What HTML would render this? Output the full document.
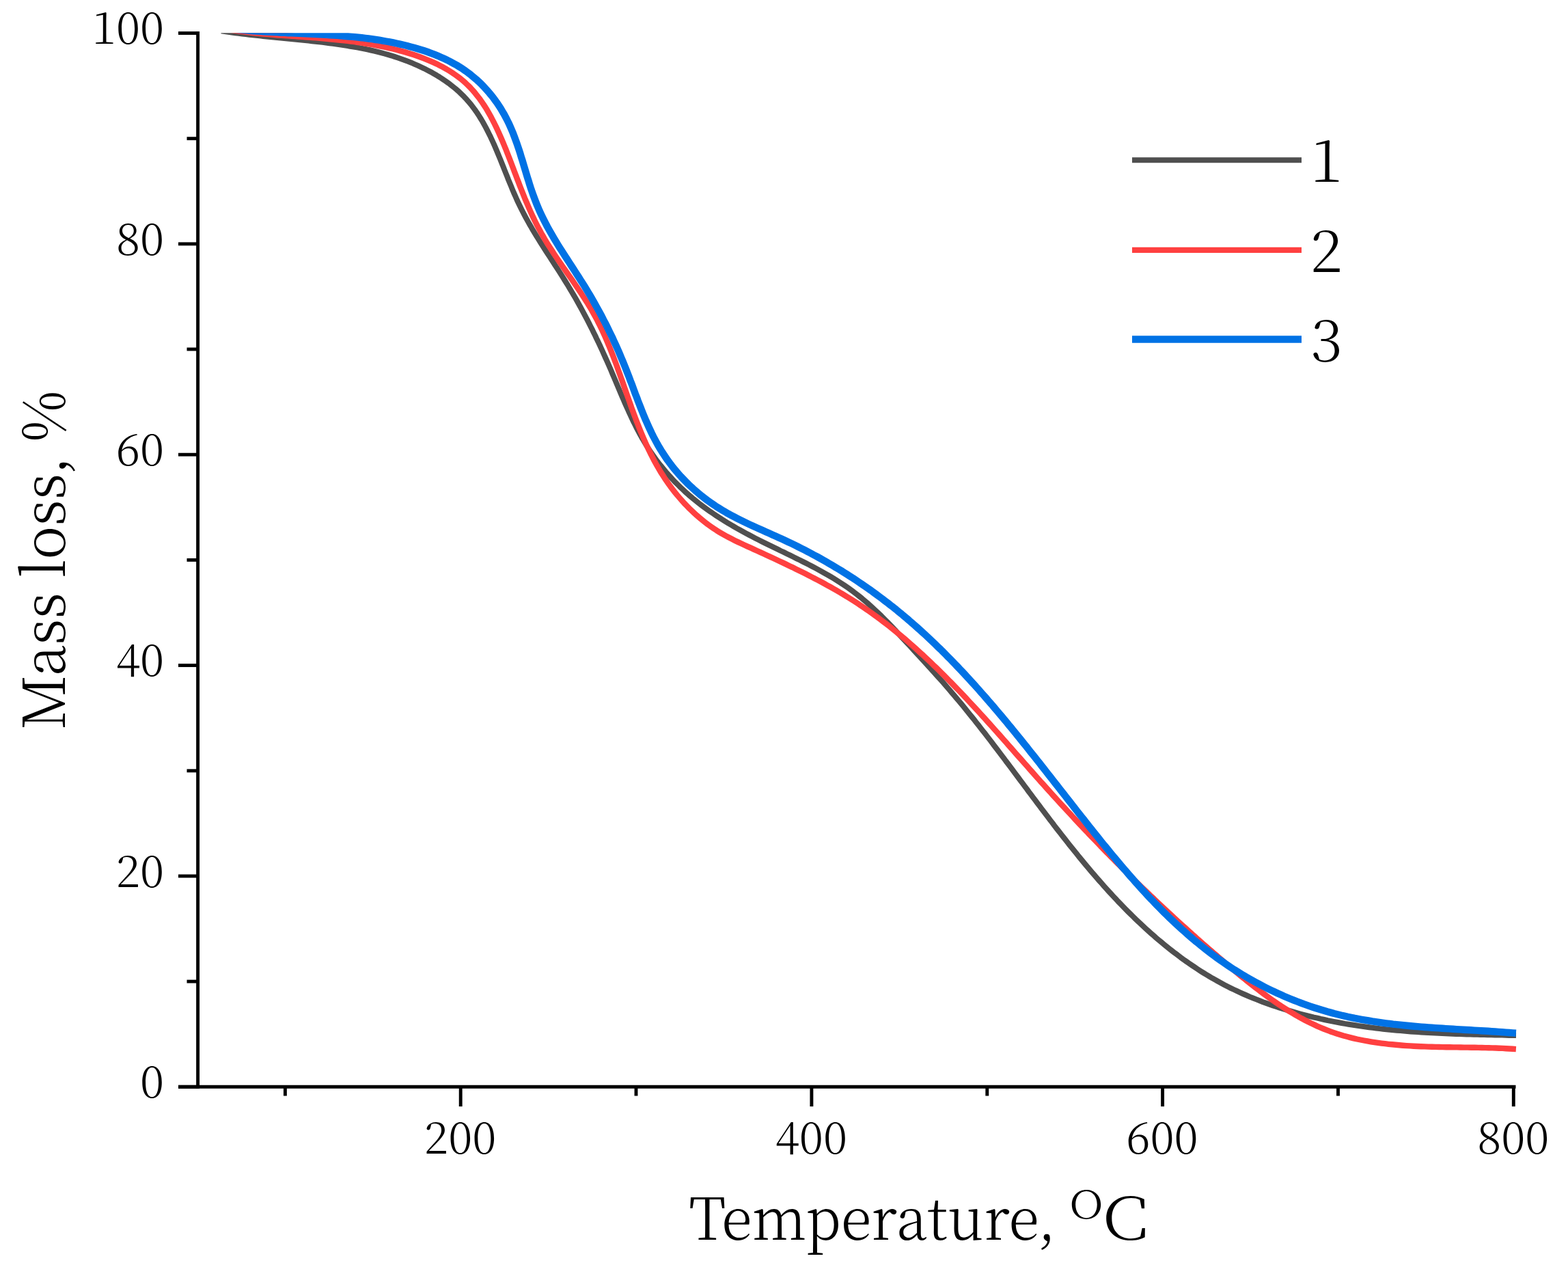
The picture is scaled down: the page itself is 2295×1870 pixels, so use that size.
<!DOCTYPE html>
<html><head><meta charset="utf-8"><title>Mass loss vs Temperature</title>
<style>html,body{margin:0;padding:0;background:#fff;}svg{display:block;}
text{font-family:"Noto Serif CJK SC", "Liberation Serif", serif;font-weight:300;fill:#000;}</style></head>
<body><svg width="2295" height="1870" viewBox="0 0 2295 1870">
<rect width="2295" height="1870" fill="#fff"/>
<defs><clipPath id="pc"><rect x="290" y="48.3" width="1930" height="1540"/></clipPath></defs>
<g clip-path="url(#pc)">
<path d="M324.0,45.3 L329.1,46.1 L334.2,46.8 L339.3,47.5 L344.4,48.2 L349.5,48.9 L354.6,49.5 L359.7,50.1 L364.8,50.7 L369.9,51.3 L375.0,51.8 L380.1,52.4 L385.2,52.9 L390.3,53.4 L395.4,54.0 L400.5,54.5 L405.6,55.0 L410.8,55.5 L415.9,56.0 L421.0,56.5 L426.1,57.0 L431.2,57.5 L436.3,58.0 L441.4,58.5 L446.5,59.1 L451.6,59.6 L456.7,60.2 L461.8,60.7 L466.9,61.3 L472.0,61.9 L477.1,62.5 L482.2,63.2 L487.2,63.9 L492.3,64.6 L497.4,65.3 L502.4,66.0 L507.5,66.8 L512.5,67.7 L517.6,68.5 L522.6,69.4 L527.6,70.4 L532.7,71.4 L537.7,72.4 L542.7,73.5 L547.7,74.7 L552.7,75.9 L557.6,77.1 L562.6,78.5 L567.6,79.9 L572.5,81.3 L577.4,82.9 L582.3,84.5 L587.2,86.2 L592.1,88.0 L597.0,89.8 L601.9,91.7 L606.7,93.8 L611.5,95.9 L616.2,98.1 L620.9,100.3 L625.6,102.7 L630.2,105.1 L634.8,107.7 L639.3,110.3 L643.7,113.0 L648.0,115.8 L652.3,118.7 L656.5,121.7 L660.5,124.8 L664.5,128.0 L668.4,131.2 L672.2,134.6 L675.8,138.1 L679.4,141.7 L682.8,145.3 L686.1,149.1 L689.3,152.9 L692.3,156.9 L695.3,160.9 L698.2,165.0 L700.9,169.2 L703.6,173.5 L706.2,177.8 L708.7,182.2 L711.1,186.6 L713.4,191.1 L715.7,195.7 L718.0,200.3 L720.1,204.9 L722.3,209.6 L724.4,214.4 L726.4,219.1 L728.4,223.9 L730.4,228.7 L732.4,233.5 L734.3,238.4 L736.3,243.2 L738.2,248.1 L740.1,252.9 L742.1,257.8 L744.0,262.7 L746.0,267.5 L748.0,272.3 L750.0,277.2 L752.0,282.0 L754.1,286.7 L756.2,291.5 L758.4,296.2 L760.6,300.8 L762.9,305.5 L765.2,310.0 L767.6,314.6 L770.0,319.1 L772.5,323.6 L775.0,328.1 L777.6,332.5 L780.1,336.9 L782.8,341.3 L785.4,345.6 L788.1,350.0 L790.8,354.3 L793.5,358.6 L796.2,362.9 L799.0,367.2 L801.8,371.5 L804.5,375.7 L807.3,380.0 L810.1,384.3 L812.8,388.6 L815.6,392.8 L818.4,397.1 L821.1,401.4 L823.8,405.7 L826.5,410.0 L829.2,414.4 L831.9,418.7 L834.5,423.1 L837.1,427.5 L839.7,431.9 L842.3,436.3 L844.8,440.8 L847.3,445.3 L849.8,449.7 L852.3,454.3 L854.7,458.8 L857.1,463.3 L859.5,467.9 L861.8,472.4 L864.1,477.0 L866.5,481.6 L868.7,486.2 L871.0,490.8 L873.2,495.5 L875.5,500.1 L877.7,504.8 L879.8,509.4 L882.0,514.1 L884.1,518.8 L886.2,523.5 L888.3,528.2 L890.4,532.9 L892.5,537.6 L894.5,542.3 L896.5,547.1 L898.5,551.8 L900.5,556.5 L902.5,561.3 L904.5,566.0 L906.5,570.7 L908.5,575.5 L910.5,580.2 L912.6,584.9 L914.6,589.6 L916.7,594.3 L918.8,598.9 L920.9,603.6 L923.0,608.2 L925.2,612.9 L927.4,617.5 L929.7,622.0 L932.0,626.6 L934.4,631.1 L936.8,635.6 L939.3,640.1 L941.9,644.5 L944.5,648.9 L947.2,653.3 L949.9,657.6 L952.7,661.9 L955.7,666.1 L958.7,670.3 L961.7,674.5 L964.9,678.6 L968.1,682.6 L971.4,686.6 L974.7,690.6 L978.1,694.5 L981.6,698.3 L985.1,702.1 L988.7,705.9 L992.4,709.5 L996.0,713.1 L999.8,716.7 L1003.6,720.2 L1007.4,723.6 L1011.3,726.9 L1015.2,730.2 L1019.2,733.4 L1023.2,736.6 L1027.3,739.7 L1031.4,742.7 L1035.5,745.7 L1039.7,748.7 L1043.9,751.5 L1048.1,754.4 L1052.4,757.2 L1056.7,759.9 L1061.0,762.6 L1065.4,765.3 L1069.8,767.9 L1074.2,770.5 L1078.7,773.1 L1083.1,775.6 L1087.6,778.1 L1092.1,780.5 L1096.7,782.9 L1101.2,785.3 L1105.8,787.7 L1110.4,790.0 L1115.0,792.3 L1119.6,794.6 L1124.2,796.9 L1128.9,799.2 L1133.5,801.4 L1138.2,803.7 L1142.8,806.0 L1147.5,808.2 L1152.1,810.5 L1156.7,812.7 L1161.4,815.0 L1166.0,817.3 L1170.6,819.5 L1175.2,821.9 L1179.8,824.2 L1184.4,826.5 L1188.9,828.9 L1193.5,831.3 L1198.0,833.7 L1202.5,836.2 L1206.9,838.7 L1211.4,841.2 L1215.8,843.8 L1220.2,846.4 L1224.5,849.1 L1228.8,851.8 L1233.1,854.6 L1237.3,857.4 L1241.5,860.3 L1245.6,863.3 L1249.7,866.3 L1253.7,869.4 L1257.7,872.5 L1261.7,875.7 L1265.6,879.0 L1269.5,882.3 L1273.3,885.7 L1277.1,889.2 L1280.8,892.6 L1284.6,896.2 L1288.3,899.7 L1291.9,903.3 L1295.6,907.0 L1299.2,910.6 L1302.8,914.3 L1306.4,918.1 L1310.0,921.8 L1313.5,925.6 L1317.1,929.4 L1320.6,933.2 L1324.1,937.0 L1327.6,940.8 L1331.2,944.6 L1334.7,948.4 L1338.2,952.3 L1341.7,956.1 L1345.2,959.9 L1348.8,963.7 L1352.3,967.5 L1355.8,971.4 L1359.3,975.2 L1362.8,979.0 L1366.2,982.9 L1369.7,986.7 L1373.1,990.5 L1376.6,994.4 L1380.0,998.2 L1383.4,1002.1 L1386.7,1006.0 L1390.1,1009.9 L1393.4,1013.8 L1396.7,1017.7 L1400.0,1021.6 L1403.3,1025.5 L1406.6,1029.4 L1409.8,1033.3 L1413.0,1037.3 L1416.2,1041.2 L1419.4,1045.2 L1422.6,1049.1 L1425.8,1053.1 L1428.9,1057.1 L1432.1,1061.1 L1435.2,1065.1 L1438.3,1069.1 L1441.5,1073.1 L1444.6,1077.1 L1447.7,1081.1 L1450.8,1085.1 L1453.8,1089.2 L1456.9,1093.2 L1460.0,1097.2 L1463.1,1101.3 L1466.1,1105.3 L1469.2,1109.4 L1472.2,1113.5 L1475.3,1117.5 L1478.4,1121.6 L1481.4,1125.7 L1484.5,1129.8 L1487.5,1133.9 L1490.6,1138.0 L1493.6,1142.1 L1496.7,1146.2 L1499.8,1150.3 L1502.9,1154.4 L1505.9,1158.6 L1509.0,1162.7 L1512.1,1166.8 L1515.2,1170.9 L1518.3,1175.1 L1521.4,1179.2 L1524.5,1183.3 L1527.6,1187.4 L1530.8,1191.6 L1533.9,1195.7 L1537.0,1199.8 L1540.2,1203.9 L1543.3,1208.1 L1546.5,1212.2 L1549.7,1216.3 L1552.9,1220.4 L1556.1,1224.5 L1559.3,1228.5 L1562.5,1232.6 L1565.7,1236.7 L1569.0,1240.8 L1572.2,1244.8 L1575.5,1248.8 L1578.7,1252.9 L1582.0,1256.9 L1585.3,1260.9 L1588.6,1264.9 L1592.0,1268.9 L1595.3,1272.8 L1598.7,1276.8 L1602.0,1280.7 L1605.4,1284.6 L1608.8,1288.5 L1612.3,1292.4 L1615.7,1296.3 L1619.1,1300.1 L1622.6,1304.0 L1626.1,1307.8 L1629.6,1311.6 L1633.1,1315.3 L1636.6,1319.1 L1640.2,1322.8 L1643.8,1326.5 L1647.4,1330.2 L1651.0,1333.8 L1654.6,1337.4 L1658.3,1341.0 L1661.9,1344.6 L1665.6,1348.1 L1669.4,1351.7 L1673.1,1355.2 L1676.8,1358.6 L1680.6,1362.0 L1684.4,1365.4 L1688.3,1368.8 L1692.1,1372.2 L1696.0,1375.5 L1699.9,1378.7 L1703.8,1382.0 L1707.7,1385.2 L1711.7,1388.4 L1715.7,1391.5 L1719.7,1394.6 L1723.8,1397.6 L1727.8,1400.7 L1731.9,1403.7 L1736.1,1406.6 L1740.2,1409.5 L1744.4,1412.4 L1748.6,1415.2 L1752.8,1418.0 L1757.1,1420.8 L1761.4,1423.5 L1765.7,1426.1 L1770.1,1428.7 L1774.4,1431.3 L1778.9,1433.8 L1783.3,1436.3 L1787.8,1438.8 L1792.3,1441.2 L1796.8,1443.5 L1801.4,1445.8 L1806.0,1448.0 L1810.6,1450.2 L1815.3,1452.4 L1820.0,1454.5 L1824.7,1456.5 L1829.4,1458.6 L1834.2,1460.5 L1839.0,1462.4 L1843.8,1464.3 L1848.6,1466.2 L1853.5,1467.9 L1858.4,1469.7 L1863.2,1471.4 L1868.2,1473.0 L1873.1,1474.7 L1878.0,1476.2 L1883.0,1477.8 L1888.0,1479.2 L1893.0,1480.7 L1898.0,1482.1 L1903.0,1483.5 L1908.0,1484.8 L1913.0,1486.1 L1918.1,1487.4 L1923.1,1488.6 L1928.2,1489.7 L1933.2,1490.9 L1938.3,1492.0 L1943.3,1493.1 L1948.4,1494.1 L1953.5,1495.1 L1958.5,1496.0 L1963.6,1497.0 L1968.6,1497.9 L1973.7,1498.7 L1978.8,1499.5 L1983.8,1500.3 L1988.9,1501.1 L1994.0,1501.8 L1999.0,1502.5 L2004.1,1503.2 L2009.2,1503.9 L2014.2,1504.5 L2019.3,1505.1 L2024.4,1505.7 L2029.4,1506.2 L2034.5,1506.7 L2039.6,1507.2 L2044.7,1507.7 L2049.8,1508.1 L2054.8,1508.6 L2059.9,1509.0 L2065.0,1509.4 L2070.1,1509.7 L2075.2,1510.1 L2080.3,1510.4 L2085.4,1510.7 L2090.5,1511.0 L2095.6,1511.3 L2100.7,1511.6 L2105.8,1511.8 L2110.9,1512.1 L2116.0,1512.3 L2121.1,1512.5 L2126.2,1512.7 L2131.4,1512.9 L2136.5,1513.1 L2141.6,1513.2 L2146.7,1513.4 L2151.9,1513.5 L2157.0,1513.7 L2162.2,1513.8 L2167.3,1513.9 L2172.5,1514.1 L2177.6,1514.2 L2182.8,1514.3 L2187.9,1514.4 L2193.1,1514.5 L2198.3,1514.6 L2203.5,1514.7 L2208.7,1514.9 L2213.8,1515.0 L2219.0,1515.1" fill="none" stroke="#4f4f4f" stroke-width="8" stroke-linejoin="round"/>
<path d="M324.0,41.8 L329.1,42.6 L334.3,43.4 L339.4,44.2 L344.6,44.9 L349.7,45.6 L354.9,46.2 L360.0,46.8 L365.2,47.4 L370.3,48.0 L375.5,48.5 L380.6,49.0 L385.7,49.5 L390.9,49.9 L396.0,50.4 L401.2,50.8 L406.3,51.2 L411.5,51.6 L416.6,52.0 L421.7,52.4 L426.9,52.7 L432.0,53.1 L437.1,53.5 L442.3,53.9 L447.4,54.3 L452.5,54.6 L457.7,55.0 L462.8,55.4 L467.9,55.9 L473.0,56.3 L478.2,56.7 L483.3,57.2 L488.4,57.7 L493.5,58.2 L498.6,58.8 L503.7,59.3 L508.8,59.9 L513.9,60.6 L519.0,61.2 L524.1,62.0 L529.2,62.7 L534.3,63.5 L539.4,64.3 L544.5,65.2 L549.6,66.1 L554.6,67.1 L559.7,68.1 L564.8,69.2 L569.8,70.3 L574.9,71.5 L580.0,72.8 L585.0,74.1 L590.1,75.5 L595.1,76.9 L600.1,78.5 L605.2,80.1 L610.2,81.8 L615.1,83.5 L620.0,85.4 L624.9,87.3 L629.8,89.3 L634.5,91.4 L639.3,93.6 L643.9,95.9 L648.5,98.3 L653.0,100.9 L657.4,103.5 L661.7,106.2 L665.9,109.1 L670.1,112.1 L674.1,115.1 L678.0,118.4 L681.7,121.7 L685.4,125.2 L688.9,128.8 L692.3,132.5 L695.5,136.3 L698.7,140.3 L701.8,144.3 L704.7,148.4 L707.6,152.6 L710.4,156.9 L713.1,161.3 L715.7,165.8 L718.2,170.3 L720.6,174.9 L723.0,179.5 L725.3,184.2 L727.6,188.9 L729.8,193.7 L731.9,198.5 L734.0,203.3 L736.1,208.1 L738.1,213.0 L740.1,217.8 L742.0,222.7 L743.9,227.6 L745.8,232.4 L747.7,237.3 L749.6,242.2 L751.4,247.0 L753.2,251.9 L755.1,256.7 L756.9,261.6 L758.8,266.4 L760.6,271.2 L762.5,276.0 L764.4,280.8 L766.3,285.5 L768.2,290.3 L770.2,295.0 L772.2,299.7 L774.2,304.4 L776.3,309.1 L778.4,313.7 L780.6,318.4 L782.8,323.0 L785.0,327.5 L787.4,332.1 L789.8,336.6 L792.2,341.1 L794.8,345.5 L797.4,350.0 L800.0,354.4 L802.7,358.7 L805.5,363.1 L808.3,367.4 L811.1,371.7 L814.0,376.0 L816.9,380.3 L819.9,384.6 L822.8,388.9 L825.8,393.1 L828.7,397.4 L831.7,401.7 L834.7,405.9 L837.7,410.2 L840.6,414.5 L843.6,418.8 L846.5,423.1 L849.4,427.4 L852.2,431.7 L855.0,436.1 L857.8,440.4 L860.6,444.8 L863.2,449.2 L865.9,453.7 L868.4,458.2 L870.9,462.7 L873.4,467.2 L875.7,471.8 L878.0,476.4 L880.3,481.0 L882.5,485.7 L884.6,490.4 L886.7,495.1 L888.7,499.8 L890.7,504.5 L892.7,509.3 L894.6,514.1 L896.5,518.9 L898.4,523.7 L900.2,528.6 L902.0,533.4 L903.8,538.3 L905.5,543.1 L907.3,548.0 L909.0,552.9 L910.8,557.8 L912.5,562.7 L914.2,567.6 L915.9,572.5 L917.6,577.3 L919.3,582.2 L921.1,587.1 L922.8,592.0 L924.5,596.9 L926.3,601.7 L928.1,606.6 L929.9,611.4 L931.7,616.2 L933.6,621.1 L935.5,625.9 L937.4,630.6 L939.4,635.4 L941.4,640.1 L943.5,644.9 L945.5,649.6 L947.7,654.2 L949.9,658.9 L952.2,663.5 L954.5,668.1 L956.8,672.7 L959.3,677.2 L961.8,681.7 L964.4,686.1 L967.0,690.6 L969.8,694.9 L972.6,699.3 L975.5,703.6 L978.4,707.8 L981.5,712.1 L984.6,716.2 L987.8,720.3 L991.1,724.4 L994.5,728.4 L997.9,732.3 L1001.4,736.2 L1005.0,739.9 L1008.7,743.7 L1012.4,747.3 L1016.2,750.9 L1020.0,754.3 L1024.0,757.7 L1028.0,761.0 L1032.0,764.2 L1036.1,767.4 L1040.3,770.4 L1044.5,773.3 L1048.8,776.1 L1053.2,778.8 L1057.6,781.4 L1062.0,783.9 L1066.5,786.3 L1071.0,788.6 L1075.6,790.9 L1080.2,793.1 L1084.8,795.3 L1089.5,797.5 L1094.1,799.6 L1098.8,801.7 L1103.5,803.9 L1108.2,806.0 L1112.9,808.1 L1117.6,810.3 L1122.3,812.5 L1127.0,814.6 L1131.7,816.8 L1136.4,819.0 L1141.1,821.2 L1145.8,823.4 L1150.5,825.6 L1155.2,827.9 L1159.9,830.1 L1164.5,832.4 L1169.2,834.7 L1173.9,837.0 L1178.5,839.3 L1183.2,841.7 L1187.8,844.1 L1192.4,846.5 L1197.0,848.9 L1201.6,851.3 L1206.2,853.8 L1210.7,856.3 L1215.3,858.8 L1219.8,861.3 L1224.3,863.9 L1228.7,866.5 L1233.2,869.2 L1237.6,871.8 L1242.0,874.5 L1246.4,877.3 L1250.8,880.0 L1255.1,882.8 L1259.4,885.7 L1263.6,888.5 L1267.9,891.5 L1272.1,894.4 L1276.3,897.4 L1280.4,900.4 L1284.6,903.4 L1288.7,906.5 L1292.8,909.6 L1296.9,912.7 L1300.9,915.8 L1304.9,919.0 L1308.9,922.2 L1312.9,925.5 L1316.9,928.7 L1320.8,932.0 L1324.7,935.3 L1328.6,938.7 L1332.5,942.1 L1336.3,945.4 L1340.2,948.9 L1344.0,952.3 L1347.8,955.8 L1351.6,959.2 L1355.3,962.7 L1359.1,966.3 L1362.8,969.8 L1366.5,973.4 L1370.2,976.9 L1373.9,980.5 L1377.6,984.2 L1381.2,987.8 L1384.9,991.5 L1388.5,995.1 L1392.1,998.8 L1395.7,1002.5 L1399.3,1006.2 L1402.9,1009.9 L1406.5,1013.7 L1410.1,1017.4 L1413.6,1021.2 L1417.1,1025.0 L1420.7,1028.8 L1424.2,1032.6 L1427.7,1036.4 L1431.2,1040.2 L1434.7,1044.0 L1438.2,1047.9 L1441.7,1051.7 L1445.2,1055.6 L1448.6,1059.4 L1452.1,1063.3 L1455.6,1067.2 L1459.0,1071.0 L1462.5,1074.9 L1465.9,1078.8 L1469.4,1082.7 L1472.8,1086.6 L1476.2,1090.5 L1479.7,1094.4 L1483.1,1098.3 L1486.5,1102.2 L1490.0,1106.1 L1493.4,1109.9 L1496.8,1113.8 L1500.3,1117.7 L1503.7,1121.6 L1507.1,1125.5 L1510.6,1129.4 L1514.0,1133.3 L1517.5,1137.2 L1520.9,1141.0 L1524.3,1144.9 L1527.8,1148.7 L1531.3,1152.6 L1534.7,1156.4 L1538.2,1160.3 L1541.6,1164.1 L1545.1,1167.9 L1548.6,1171.8 L1552.1,1175.6 L1555.6,1179.4 L1559.1,1183.2 L1562.6,1187.0 L1566.1,1190.7 L1569.6,1194.5 L1573.1,1198.3 L1576.6,1202.0 L1580.1,1205.8 L1583.7,1209.6 L1587.2,1213.3 L1590.8,1217.0 L1594.3,1220.8 L1597.9,1224.5 L1601.4,1228.2 L1605.0,1231.9 L1608.6,1235.6 L1612.1,1239.3 L1615.7,1243.0 L1619.3,1246.7 L1622.9,1250.3 L1626.5,1254.0 L1630.1,1257.6 L1633.7,1261.3 L1637.4,1264.9 L1641.0,1268.6 L1644.6,1272.2 L1648.3,1275.8 L1651.9,1279.4 L1655.6,1283.1 L1659.3,1286.7 L1662.9,1290.2 L1666.6,1293.8 L1670.3,1297.4 L1674.0,1301.0 L1677.7,1304.6 L1681.4,1308.1 L1685.1,1311.7 L1688.9,1315.2 L1692.6,1318.8 L1696.3,1322.3 L1700.1,1325.8 L1703.8,1329.3 L1707.6,1332.9 L1711.4,1336.4 L1715.2,1339.9 L1718.9,1343.3 L1722.7,1346.8 L1726.5,1350.3 L1730.4,1353.8 L1734.2,1357.2 L1738.0,1360.7 L1741.9,1364.1 L1745.7,1367.6 L1749.6,1371.0 L1753.4,1374.5 L1757.3,1377.9 L1761.2,1381.3 L1765.1,1384.7 L1769.0,1388.1 L1772.9,1391.5 L1776.8,1394.9 L1780.8,1398.3 L1784.7,1401.6 L1788.7,1405.0 L1792.6,1408.4 L1796.6,1411.7 L1800.6,1415.1 L1804.6,1418.4 L1808.6,1421.7 L1812.6,1425.1 L1816.6,1428.4 L1820.7,1431.6 L1824.7,1434.9 L1828.8,1438.2 L1832.9,1441.4 L1837.0,1444.6 L1841.1,1447.7 L1845.2,1450.9 L1849.4,1454.0 L1853.6,1457.1 L1857.8,1460.1 L1862.0,1463.1 L1866.2,1466.0 L1870.5,1468.9 L1874.7,1471.8 L1879.0,1474.6 L1883.4,1477.4 L1887.7,1480.1 L1892.1,1482.7 L1896.5,1485.3 L1901.0,1487.8 L1905.4,1490.3 L1909.9,1492.7 L1914.4,1495.0 L1919.0,1497.3 L1923.6,1499.4 L1928.2,1501.6 L1932.9,1503.6 L1937.5,1505.5 L1942.3,1507.4 L1947.0,1509.2 L1951.8,1510.9 L1956.6,1512.5 L1961.5,1514.0 L1966.4,1515.5 L1971.3,1516.8 L1976.3,1518.1 L1981.3,1519.3 L1986.3,1520.5 L1991.3,1521.5 L1996.4,1522.5 L2001.5,1523.4 L2006.6,1524.3 L2011.7,1525.1 L2016.9,1525.9 L2022.1,1526.6 L2027.3,1527.2 L2032.5,1527.8 L2037.7,1528.3 L2042.9,1528.8 L2048.2,1529.3 L2053.4,1529.7 L2058.7,1530.1 L2064.0,1530.4 L2069.2,1530.7 L2074.5,1531.0 L2079.8,1531.2 L2085.1,1531.4 L2090.4,1531.6 L2095.7,1531.7 L2101.0,1531.9 L2106.2,1532.0 L2111.5,1532.1 L2116.8,1532.2 L2122.1,1532.3 L2127.3,1532.4 L2132.6,1532.4 L2137.8,1532.5 L2143.0,1532.6 L2148.2,1532.6 L2153.4,1532.7 L2158.6,1532.8 L2163.8,1532.9 L2168.9,1533.0 L2174.0,1533.1 L2179.1,1533.2 L2184.2,1533.4 L2189.2,1533.5 L2194.2,1533.7 L2199.2,1533.9 L2204.2,1534.2 L2209.1,1534.5 L2214.0,1534.8 L2218.9,1535.1" fill="none" stroke="#ff4040" stroke-width="8.4" stroke-linejoin="round"/>
<path d="M324.1,40.3 L329.2,41.0 L334.3,41.6 L339.4,42.2 L344.6,42.8 L349.7,43.3 L354.8,43.8 L360.0,44.3 L365.1,44.8 L370.2,45.2 L375.4,45.5 L380.5,45.9 L385.6,46.2 L390.8,46.6 L395.9,46.9 L401.1,47.1 L406.2,47.4 L411.3,47.7 L416.5,47.9 L421.6,48.2 L426.8,48.4 L431.9,48.6 L437.0,48.9 L442.2,49.1 L447.3,49.3 L452.4,49.6 L457.6,49.8 L462.7,50.1 L467.9,50.3 L473.0,50.6 L478.1,50.9 L483.3,51.2 L488.4,51.6 L493.5,51.9 L498.7,52.3 L503.8,52.7 L508.9,53.2 L514.0,53.6 L519.2,54.1 L524.3,54.7 L529.4,55.2 L534.5,55.9 L539.6,56.5 L544.7,57.2 L549.8,58.0 L555.0,58.7 L560.1,59.6 L565.2,60.5 L570.3,61.4 L575.4,62.4 L580.4,63.5 L585.5,64.6 L590.6,65.8 L595.7,67.0 L600.8,68.4 L605.8,69.7 L610.9,71.2 L615.9,72.7 L620.9,74.3 L625.9,76.0 L630.8,77.8 L635.7,79.7 L640.5,81.6 L645.3,83.7 L650.0,85.8 L654.7,88.0 L659.3,90.4 L663.8,92.8 L668.3,95.3 L672.7,98.0 L677.0,100.7 L681.2,103.6 L685.3,106.6 L689.3,109.7 L693.2,112.9 L697.1,116.2 L700.8,119.6 L704.4,123.1 L708.0,126.7 L711.4,130.4 L714.8,134.2 L718.0,138.1 L721.2,142.0 L724.2,146.1 L727.2,150.2 L730.0,154.4 L732.8,158.7 L735.4,163.1 L738.0,167.5 L740.4,172.0 L742.7,176.5 L745.0,181.1 L747.1,185.8 L749.1,190.5 L751.1,195.3 L752.9,200.1 L754.7,205.0 L756.5,209.8 L758.2,214.8 L759.8,219.7 L761.4,224.7 L762.9,229.7 L764.5,234.7 L766.0,239.7 L767.5,244.7 L769.0,249.7 L770.5,254.7 L772.0,259.7 L773.6,264.7 L775.1,269.7 L776.7,274.7 L778.4,279.6 L780.1,284.5 L781.9,289.4 L783.7,294.2 L785.6,299.0 L787.6,303.8 L789.6,308.5 L791.8,313.2 L794.0,317.8 L796.3,322.4 L798.6,326.9 L801.0,331.5 L803.5,336.0 L806.0,340.4 L808.6,344.9 L811.2,349.3 L813.8,353.7 L816.5,358.1 L819.2,362.4 L822.0,366.8 L824.7,371.1 L827.5,375.4 L830.3,379.7 L833.1,384.0 L835.9,388.4 L838.7,392.7 L841.5,397.0 L844.3,401.3 L847.1,405.6 L849.8,409.9 L852.6,414.3 L855.3,418.6 L858.0,423.0 L860.6,427.4 L863.3,431.8 L865.9,436.2 L868.4,440.6 L870.9,445.1 L873.4,449.5 L875.9,454.0 L878.4,458.5 L880.8,463.0 L883.1,467.6 L885.5,472.1 L887.8,476.7 L890.1,481.3 L892.3,485.9 L894.6,490.5 L896.8,495.1 L898.9,499.8 L901.1,504.5 L903.2,509.2 L905.3,513.9 L907.3,518.6 L909.3,523.4 L911.3,528.1 L913.3,532.9 L915.2,537.7 L917.1,542.5 L919.0,547.4 L920.9,552.2 L922.7,557.1 L924.6,561.9 L926.4,566.8 L928.2,571.7 L930.0,576.6 L931.9,581.4 L933.7,586.3 L935.6,591.1 L937.5,596.0 L939.4,600.8 L941.3,605.6 L943.3,610.4 L945.3,615.2 L947.4,619.9 L949.5,624.6 L951.7,629.3 L953.9,634.0 L956.2,638.6 L958.6,643.1 L961.0,647.6 L963.5,652.1 L966.1,656.5 L968.8,660.9 L971.6,665.2 L974.5,669.5 L977.4,673.7 L980.5,677.8 L983.6,681.9 L986.8,685.9 L990.1,689.9 L993.5,693.8 L996.9,697.6 L1000.5,701.4 L1004.1,705.1 L1007.7,708.7 L1011.5,712.2 L1015.3,715.7 L1019.1,719.1 L1023.1,722.4 L1027.0,725.7 L1031.1,728.9 L1035.2,732.0 L1039.4,735.0 L1043.6,737.9 L1047.9,740.8 L1052.2,743.5 L1056.5,746.2 L1061.0,748.8 L1065.4,751.4 L1069.9,753.8 L1074.4,756.2 L1079.0,758.6 L1083.6,760.9 L1088.2,763.2 L1092.8,765.4 L1097.5,767.6 L1102.2,769.7 L1106.9,771.9 L1111.6,774.0 L1116.3,776.1 L1121.0,778.2 L1125.8,780.3 L1130.5,782.4 L1135.2,784.5 L1140.0,786.7 L1144.7,788.8 L1149.4,791.0 L1154.1,793.2 L1158.8,795.4 L1163.4,797.7 L1168.1,800.0 L1172.7,802.3 L1177.4,804.7 L1182.0,807.1 L1186.6,809.5 L1191.1,812.0 L1195.7,814.4 L1200.2,816.9 L1204.8,819.5 L1209.3,822.1 L1213.8,824.7 L1218.3,827.3 L1222.7,829.9 L1227.2,832.6 L1231.6,835.3 L1236.0,838.1 L1240.4,840.8 L1244.7,843.6 L1249.1,846.4 L1253.4,849.3 L1257.7,852.2 L1262.0,855.1 L1266.2,858.0 L1270.5,861.0 L1274.7,863.9 L1278.9,867.0 L1283.0,870.0 L1287.2,873.1 L1291.3,876.1 L1295.4,879.3 L1299.5,882.4 L1303.5,885.6 L1307.6,888.7 L1311.6,891.9 L1315.5,895.2 L1319.5,898.4 L1323.4,901.7 L1327.4,905.0 L1331.2,908.4 L1335.1,911.7 L1339.0,915.1 L1342.8,918.5 L1346.6,921.9 L1350.4,925.3 L1354.2,928.8 L1357.9,932.3 L1361.6,935.8 L1365.3,939.3 L1369.0,942.8 L1372.7,946.4 L1376.4,949.9 L1380.0,953.5 L1383.6,957.1 L1387.2,960.8 L1390.8,964.4 L1394.4,968.1 L1397.9,971.8 L1401.5,975.5 L1405.0,979.2 L1408.5,982.9 L1412.0,986.6 L1415.5,990.4 L1419.0,994.2 L1422.4,998.0 L1425.9,1001.8 L1429.3,1005.6 L1432.7,1009.4 L1436.1,1013.3 L1439.5,1017.1 L1442.9,1021.0 L1446.2,1024.9 L1449.6,1028.7 L1453.0,1032.6 L1456.3,1036.6 L1459.6,1040.5 L1462.9,1044.4 L1466.3,1048.4 L1469.6,1052.3 L1472.9,1056.3 L1476.1,1060.3 L1479.4,1064.2 L1482.7,1068.2 L1486.0,1072.2 L1489.2,1076.2 L1492.5,1080.2 L1495.7,1084.3 L1498.9,1088.3 L1502.2,1092.3 L1505.4,1096.4 L1508.6,1100.4 L1511.9,1104.5 L1515.1,1108.5 L1518.3,1112.6 L1521.5,1116.6 L1524.7,1120.7 L1527.9,1124.8 L1531.1,1128.9 L1534.3,1132.9 L1537.5,1137.0 L1540.7,1141.1 L1543.9,1145.2 L1547.1,1149.3 L1550.3,1153.4 L1553.5,1157.4 L1556.7,1161.5 L1559.9,1165.6 L1563.1,1169.7 L1566.3,1173.8 L1569.5,1177.9 L1572.7,1182.0 L1575.9,1186.1 L1579.1,1190.2 L1582.3,1194.3 L1585.6,1198.3 L1588.8,1202.4 L1592.0,1206.5 L1595.2,1210.6 L1598.5,1214.6 L1601.7,1218.7 L1605.0,1222.8 L1608.2,1226.8 L1611.5,1230.9 L1614.7,1234.9 L1618.0,1238.9 L1621.3,1242.9 L1624.6,1247.0 L1627.9,1251.0 L1631.2,1254.9 L1634.5,1258.9 L1637.9,1262.9 L1641.2,1266.8 L1644.6,1270.8 L1648.0,1274.7 L1651.3,1278.6 L1654.7,1282.5 L1658.2,1286.4 L1661.6,1290.3 L1665.0,1294.1 L1668.5,1298.0 L1671.9,1301.8 L1675.4,1305.6 L1678.9,1309.4 L1682.4,1313.1 L1686.0,1316.8 L1689.5,1320.6 L1693.1,1324.2 L1696.7,1327.9 L1700.3,1331.6 L1703.9,1335.2 L1707.6,1338.8 L1711.3,1342.4 L1715.0,1345.9 L1718.7,1349.4 L1722.4,1352.9 L1726.2,1356.4 L1730.0,1359.8 L1733.8,1363.2 L1737.6,1366.6 L1741.5,1370.0 L1745.3,1373.3 L1749.2,1376.6 L1753.2,1379.8 L1757.1,1383.0 L1761.1,1386.2 L1765.1,1389.4 L1769.2,1392.5 L1773.2,1395.6 L1777.3,1398.7 L1781.4,1401.7 L1785.6,1404.6 L1789.8,1407.6 L1794.0,1410.5 L1798.2,1413.3 L1802.5,1416.2 L1806.8,1419.0 L1811.2,1421.7 L1815.5,1424.4 L1819.9,1427.1 L1824.4,1429.7 L1828.8,1432.2 L1833.3,1434.8 L1837.8,1437.3 L1842.3,1439.7 L1846.9,1442.1 L1851.5,1444.5 L1856.1,1446.8 L1860.8,1449.1 L1865.4,1451.3 L1870.1,1453.5 L1874.8,1455.6 L1879.5,1457.7 L1884.3,1459.7 L1889.1,1461.7 L1893.8,1463.6 L1898.7,1465.5 L1903.5,1467.4 L1908.3,1469.2 L1913.2,1470.9 L1918.1,1472.6 L1923.0,1474.2 L1927.9,1475.8 L1932.8,1477.3 L1937.8,1478.8 L1942.7,1480.3 L1947.7,1481.6 L1952.7,1483.0 L1957.7,1484.2 L1962.7,1485.5 L1967.7,1486.6 L1972.8,1487.8 L1977.8,1488.8 L1982.9,1489.9 L1987.9,1490.8 L1993.0,1491.8 L1998.1,1492.7 L2003.2,1493.5 L2008.3,1494.4 L2013.4,1495.1 L2018.5,1495.9 L2023.6,1496.6 L2028.7,1497.3 L2033.9,1497.9 L2039.0,1498.6 L2044.1,1499.1 L2049.3,1499.7 L2054.4,1500.2 L2059.6,1500.7 L2064.8,1501.2 L2069.9,1501.7 L2075.1,1502.1 L2080.3,1502.6 L2085.4,1503.0 L2090.6,1503.4 L2095.8,1503.7 L2100.9,1504.1 L2106.1,1504.4 L2111.3,1504.8 L2116.4,1505.1 L2121.6,1505.4 L2126.8,1505.7 L2131.9,1506.1 L2137.1,1506.4 L2142.3,1506.7 L2147.4,1507.0 L2152.6,1507.3 L2157.7,1507.6 L2162.8,1507.9 L2168.0,1508.2 L2173.1,1508.5 L2178.2,1508.8 L2183.4,1509.2 L2188.5,1509.5 L2193.6,1509.9 L2198.7,1510.2 L2203.7,1510.6 L2208.8,1511.0 L2213.9,1511.4 L2218.9,1511.8" fill="none" stroke="#0072e5" stroke-width="10.4" stroke-linejoin="round"/>
</g>
<line x1="289.6" y1="46.0" x2="289.6" y2="1592.8" stroke="#000" stroke-width="4.9"/>
<line x1="261" y1="1590.3" x2="2218.5" y2="1590.3" stroke="#000" stroke-width="4.9"/>
<line x1="261" y1="1590.3" x2="289.6" y2="1590.3" stroke="#000" stroke-width="4.9"/>
<text x="240" y="1605.9" text-anchor="end" font-size="64.8">0</text>
<line x1="261" y1="1281.9" x2="289.6" y2="1281.9" stroke="#000" stroke-width="4.9"/>
<text x="240" y="1297.5" text-anchor="end" font-size="64.8">20</text>
<line x1="261" y1="973.6" x2="289.6" y2="973.6" stroke="#000" stroke-width="4.9"/>
<text x="240" y="989.2" text-anchor="end" font-size="64.8">40</text>
<line x1="261" y1="665.2" x2="289.6" y2="665.2" stroke="#000" stroke-width="4.9"/>
<text x="240" y="680.8" text-anchor="end" font-size="64.8">60</text>
<line x1="261" y1="356.9" x2="289.6" y2="356.9" stroke="#000" stroke-width="4.9"/>
<text x="240" y="372.5" text-anchor="end" font-size="64.8">80</text>
<line x1="261" y1="48.5" x2="289.6" y2="48.5" stroke="#000" stroke-width="4.9"/>
<text x="240" y="64.1" text-anchor="end" font-size="64.8">100</text>
<line x1="273.5" y1="1436.1" x2="289.6" y2="1436.1" stroke="#000" stroke-width="4.9"/>
<line x1="273.5" y1="1127.8" x2="289.6" y2="1127.8" stroke="#000" stroke-width="4.9"/>
<line x1="273.5" y1="819.4" x2="289.6" y2="819.4" stroke="#000" stroke-width="4.9"/>
<line x1="273.5" y1="511.0" x2="289.6" y2="511.0" stroke="#000" stroke-width="4.9"/>
<line x1="273.5" y1="202.7" x2="289.6" y2="202.7" stroke="#000" stroke-width="4.9"/>
<line x1="674.2" y1="1590.3" x2="674.2" y2="1619" stroke="#000" stroke-width="4.9"/>
<text x="673.7" y="1688" text-anchor="middle" font-size="64.8">200</text>
<line x1="1187.9" y1="1590.3" x2="1187.9" y2="1619" stroke="#000" stroke-width="4.9"/>
<text x="1187.4" y="1688" text-anchor="middle" font-size="64.8">400</text>
<line x1="1701.6" y1="1590.3" x2="1701.6" y2="1619" stroke="#000" stroke-width="4.9"/>
<text x="1701.1" y="1688" text-anchor="middle" font-size="64.8">600</text>
<line x1="2215.3" y1="1590.3" x2="2215.3" y2="1619" stroke="#000" stroke-width="4.9"/>
<text x="2214.8" y="1688" text-anchor="middle" font-size="64.8">800</text>
<line x1="417.4" y1="1590.3" x2="417.4" y2="1603.5" stroke="#000" stroke-width="4.9"/>
<line x1="931.0" y1="1590.3" x2="931.0" y2="1603.5" stroke="#000" stroke-width="4.9"/>
<line x1="1444.8" y1="1590.3" x2="1444.8" y2="1603.5" stroke="#000" stroke-width="4.9"/>
<line x1="1958.5" y1="1590.3" x2="1958.5" y2="1603.5" stroke="#000" stroke-width="4.9"/>
<text x="1008.5" y="1814" font-size="85.6" textLength="537" lengthAdjust="spacingAndGlyphs">Temperature,</text>
<text x="1565" y="1782.5" font-size="57" textLength="50" lengthAdjust="spacingAndGlyphs">O</text>
<text x="1613.5" y="1814" font-size="85.6" textLength="67.5" lengthAdjust="spacingAndGlyphs">C</text>
<text transform="translate(94.7,1067.5) rotate(-90)" x="0" y="0" font-size="86" textLength="496" lengthAdjust="spacingAndGlyphs">Mass loss, %</text>
<line x1="1657" y1="234.2" x2="1905" y2="234.2" stroke="#4f4f4f" stroke-width="8"/>
<line x1="1657" y1="365.8" x2="1905" y2="365.8" stroke="#ff4040" stroke-width="8.3"/>
<line x1="1657" y1="496.4" x2="1905" y2="496.4" stroke="#0072e5" stroke-width="10.5"/>
<text x="1918" y="266.3" font-size="85.5" textLength="47" lengthAdjust="spacingAndGlyphs">1</text>
<text x="1918" y="398.3" font-size="85.5" textLength="47" lengthAdjust="spacingAndGlyphs">2</text>
<text x="1918" y="529.4" font-size="85.5" textLength="47" lengthAdjust="spacingAndGlyphs">3</text>
</svg></body></html>
